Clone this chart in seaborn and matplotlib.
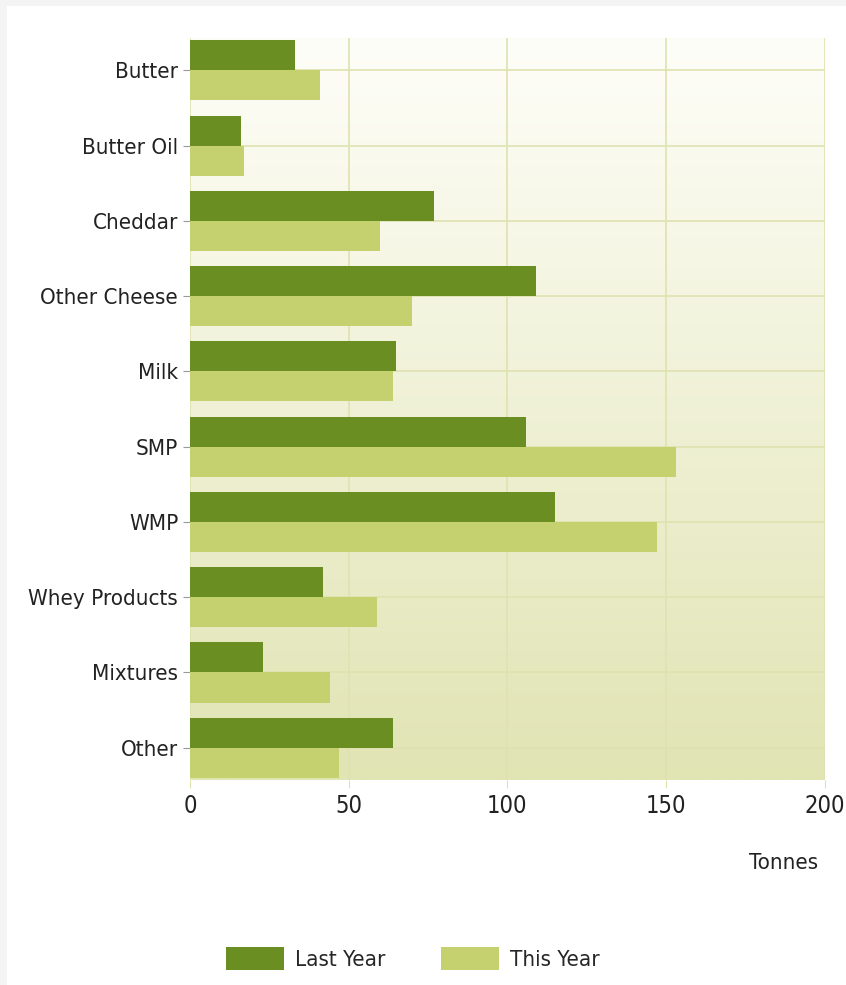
import numpy as np
import pandas as pd
import matplotlib
matplotlib.use("Agg")
import matplotlib.pyplot as plt
import seaborn as sns
from matplotlib import font_manager
from matplotlib.patches import Rectangle

# --- data ---
categories = ['Butter', 'Butter Oil', 'Cheddar', 'Other Cheese', 'Milk',
              'SMP', 'WMP', 'Whey Products', 'Mixtures', 'Other']
last_year = [33, 16, 77, 109, 65, 106, 115, 42, 23, 64]
this_year = [41, 17, 60, 70, 64, 153, 147, 59, 44, 47]
series_names = ['Last Year', 'This Year']
x_ticks = [0, 50, 100, 150, 200]
x_label = 'Tonnes'

df = pd.DataFrame({
    'Produit': categories * 2,
    'Valeur': last_year + this_year,
    'Serie': [series_names[0]] * len(categories) + [series_names[1]] * len(categories),
})

sns.set_style('white')

# police étroite si disponible
condensed = [f for f in font_manager.fontManager.ttflist
             if f.stretch in ('condensed', 'semi-condensed', 'extra-condensed')
             or 'Narrow' in f.name or 'Condensed' in f.name]
if condensed:
    fam = condensed[0].name
    plt.rcParams['font.stretch'] = condensed[0].stretch
    fsize = 16
else:
    fam = 'Liberation Sans'
    fsize = 15
plt.rcParams['font.family'] = [fam, 'DejaVu Sans']

fig = plt.figure(figsize=(8.46, 9.85), dpi=100)
fig.patch.set_facecolor('#f4f4f4')
# cadre blanc (bord gris en haut et à gauche)
fig.patches.append(Rectangle((7 / 846, 0), 1, 1 - 6 / 985, transform=fig.transFigure,
                             facecolor='white', edgecolor='none', zorder=-10))
ax = fig.add_axes([0.2246, 0.2081, 0.7504, 0.7533])

couleurs = ['#6b8e23', '#c5d06e']
sns.barplot(data=df, y='Produit', x='Valeur', hue='Serie', orient='h',
            palette=couleurs, width=0.8, gap=0, saturation=1, ax=ax, zorder=3,
            legend=True, linewidth=0, edgecolor='none')

# fond en dégradé
ax.set_xlim(0, 200)
ax.set_ylim(len(categories) - 0.57, -0.43)
grad = np.linspace(0, 1, 256).reshape(-1, 1)
cmap = matplotlib.colors.LinearSegmentedColormap.from_list('bg', ['#fefef9', '#e1e4b3'])
ax.imshow(grad, extent=[0, 200, len(categories) - 0.57, -0.43], aspect='auto',
          cmap=cmap, zorder=0, origin='upper')

for v in x_ticks:
    ax.axvline(v, color='#dfe2b0', lw=1.2, zorder=1)
for i in range(len(categories)):
    ax.axhline(i, color='#dfe2b0', lw=1.2, zorder=1)

for s in ax.spines.values():
    s.set_visible(False)

ax.set_xticks(x_ticks)
ax.set_xticklabels([str(t) for t in x_ticks], fontsize=fsize + 1, color='#222222')
ax.tick_params(axis='y', labelsize=fsize, labelcolor='#222222', length=5, color='#999999', left=True)
ax.tick_params(axis='x', length=6, color='#dfe2b0', bottom=True, pad=4)
ax.set_ylabel('')
ax.set_xlabel('')
fig.text(0.967, 0.124, x_label, ha='right', va='center', fontsize=fsize, color='#222222')

handles, labels = ax.get_legend_handles_labels()
ax.legend_.remove()
fig.legend(handles, labels, loc='center', bbox_to_anchor=(0.488, 0.027), ncol=2,
           frameon=False, fontsize=fsize, handlelength=2.6, handleheight=1.2,
           columnspacing=2.5, handletextpad=0.5)

plt.savefig('out.png', dpi=100, facecolor=fig.get_facecolor())
